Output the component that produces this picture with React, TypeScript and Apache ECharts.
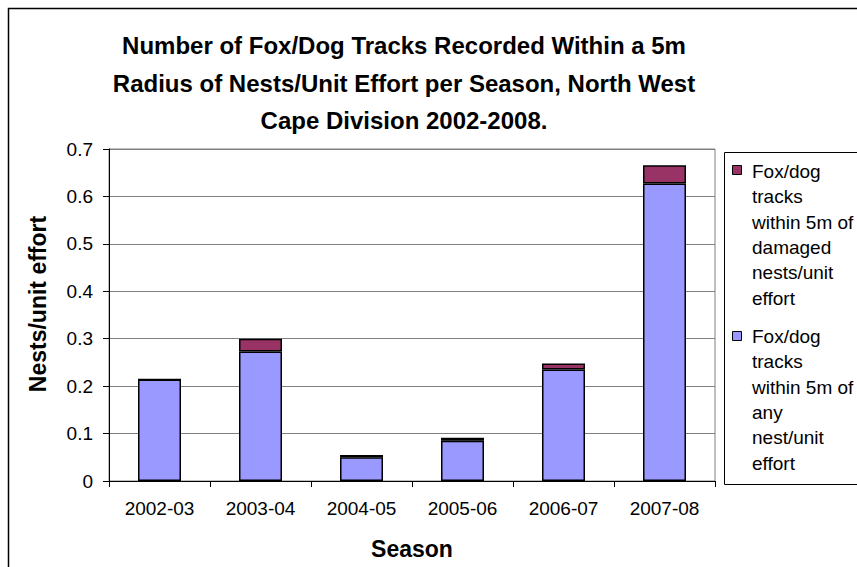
import React, { useEffect, useRef } from 'react';
import * as echarts from 'echarts';

const categories = ['2002-03', '2003-04', '2004-05', '2005-06', '2006-07', '2007-08'];
const anyNestValues = [0.214, 0.273, 0.05, 0.085, 0.235, 0.627];
const damagedValues = [0, 0.027, 0.005, 0.006, 0.0125, 0.039];
const seriesNames = [
  'Fox/dog tracks within 5m of any nest/unit effort',
  'Fox/dog tracks within 5m of damaged nests/unit effort',
];
const legendLinesAny = ['Fox/dog', 'tracks', 'within 5m of', 'any', 'nest/unit', 'effort'];
const legendLinesDamaged = ['Fox/dog', 'tracks', 'within 5m of', 'damaged', 'nests/unit', 'effort'];
const titleLines = [
  'Number of Fox/Dog Tracks Recorded Within a 5m',
  'Radius of Nests/Unit Effort per Season, North West',
  'Cape Division 2002-2008.',
];
const yMin = 0;
const yMax = 0.7;
const yInterval = 0.1;
const xAxisName = 'Season';
const yAxisName = 'Nests/unit effort';

const FONT = "'Liberation Sans', Arial, sans-serif";
const COLOR_ANY = '#9999FF';
const COLOR_DAMAGED = '#993366';

export default function App() {
  const ref = useRef<HTMLDivElement>(null);
  useEffect(() => {
    const chart = echarts.init(ref.current!, null, { renderer: 'svg' });
    chart.setOption({
      animation: false,
      backgroundColor: '#ffffff',
      textStyle: { fontFamily: FONT },
      grid: {
        left: 109,
        top: 149,
        right: 142,
        bottom: 86,
        containLabel: false,
        outerBoundsMode: 'none',
        show: true,
        borderColor: '#808080',
        borderWidth: 1,
        backgroundColor: '#ffffff',
      },
      xAxis: {
        type: 'category',
        data: categories,
        name: xAxisName,
        nameLocation: 'middle',
        nameGap: 56,
        nameTextStyle: { fontFamily: FONT, fontSize: 23, fontWeight: 'bold', color: '#000' },
        axisLine: { show: true, lineStyle: { color: '#000', width: 1 } },
        axisTick: { show: true, length: 6, lineStyle: { color: '#000' } },
        axisLabel: { fontFamily: FONT, fontSize: 19, color: '#000', margin: 18 },
        splitLine: { show: false },
      },
      yAxis: {
        type: 'value',
        min: yMin,
        max: yMax,
        interval: yInterval,
        name: yAxisName,
        nameLocation: 'middle',
        nameRotate: 90,
        nameGap: 60,
        nameMoveOverlap: false,
        nameTextStyle: {
          fontFamily: FONT,
          fontSize: 23,
          fontWeight: 'bold',
          color: '#000',
          padding: [0, 0, 0, 22],
        },
        axisLine: { show: true, lineStyle: { color: '#000', width: 1 } },
        axisTick: { show: true, length: 6, lineStyle: { color: '#000' } },
        axisLabel: { fontFamily: FONT, fontSize: 19, color: '#000', margin: 16 },
        splitLine: { show: true, lineStyle: { color: '#808080', width: 1 } },
      },
      series: [
        {
          name: seriesNames[0],
          type: 'bar',
          stack: 'total',
          data: anyNestValues,
          barWidth: 43,
          itemStyle: { color: COLOR_ANY, borderColor: '#000', borderWidth: 1.5 },
        },
        {
          name: seriesNames[1],
          type: 'bar',
          stack: 'total',
          data: damagedValues,
          barWidth: 43,
          itemStyle: { color: COLOR_DAMAGED, borderColor: '#000', borderWidth: 1.5 },
        },
      ],
      graphic: [
        {
          type: 'rect',
          shape: { x: 8.5, y: 8.5, width: 900, height: 600 },
          style: { fill: 'none', stroke: '#000', lineWidth: 1.5 },
          silent: true,
        },
        {
          type: 'text',
          x: 404,
          y: 27,
          style: {
            text: titleLines.join('\n'),
            align: 'center',
            verticalAlign: 'top',
            font: `bold 24px ${FONT}`,
            lineHeight: 37.5,
            fill: '#000',
          },
        },
        {
          type: 'rect',
          shape: { x: 724.5, y: 152.5, width: 200, height: 332 },
          style: { fill: '#fff', stroke: '#000', lineWidth: 1 },
        },
        {
          type: 'rect',
          shape: { x: 732.5, y: 165.5, width: 9, height: 9 },
          style: { fill: COLOR_DAMAGED, stroke: '#000', lineWidth: 1 },
        },
        {
          type: 'text',
          x: 752,
          y: 159,
          style: {
            text: legendLinesDamaged.join('\n'),
            align: 'left',
            verticalAlign: 'top',
            font: `19px ${FONT}`,
            lineHeight: 25.3,
            fill: '#000',
          },
        },
        {
          type: 'rect',
          shape: { x: 732.5, y: 331.5, width: 9, height: 9 },
          style: { fill: COLOR_ANY, stroke: '#000', lineWidth: 1 },
        },
        {
          type: 'text',
          x: 752,
          y: 324,
          style: {
            text: legendLinesAny.join('\n'),
            align: 'left',
            verticalAlign: 'top',
            font: `19px ${FONT}`,
            lineHeight: 25.3,
            fill: '#000',
          },
        },
      ],
    });
    return () => chart.dispose();
  }, []);
  return (
    <div
      ref={ref}
      style={{ position: 'absolute', left: 0, top: 0, width: 857, height: 567, background: '#fff' }}
    />
  );
}
